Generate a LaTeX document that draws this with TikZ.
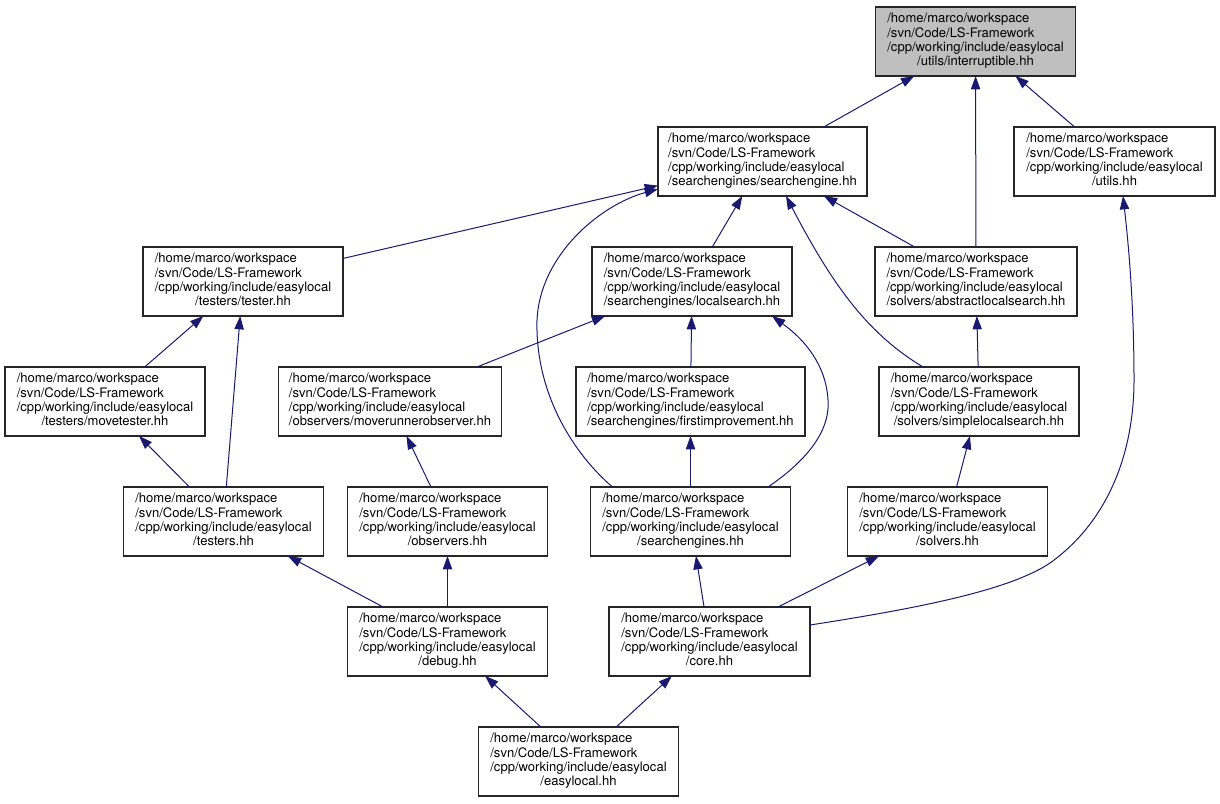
\documentclass[tikz,border=0pt]{standalone}
\usepackage{fontspec}
\setmainfont{TeX Gyre Heros}
\usepackage{tikz}
\usetikzlibrary{arrows.meta,calc}

\definecolor{edgeblue}{HTML}{191970}
\definecolor{rootgray}{HTML}{BFBFBF}

% common path prefix, last line centred
\newcommand{\hhpath}[1]{\begin{tabular}{@{}l@{}}/home/marco/workspace\\/svn/Code/LS-Framework\\/cpp/working/include/easylocal\\\multicolumn{1}{@{}c@{}}{#1}\end{tabular}}

\tikzset{
  hfile/.style={draw=black!85, fill=white, line width=0.8pt, inner sep=0pt, outer sep=0pt,
    minimum height=51.75pt, minimum width=150pt, font=\fontsize{9.8}{10.8}\selectfont},
  hroot/.style={hfile, fill=rootgray},
  incl/.style={draw=edgeblue, line width=0.75pt, -{Triangle[length=10pt,width=7pt]}}
}

\begin{document}
\begin{tikzpicture}[x=0.75pt, y=-0.75pt]
    \useasboundingbox (0,0) rectangle (1220,803);

    % row 0
    \node[hroot] (intr) at (975.5, 41.5) {\hhpath{/utils/interruptible.hh}};
    % row 1
    \node[hfile, minimum width=156.75pt] (se) at (762.5, 161.5) {\hhpath{/searchengines/searchengine.hh}};
    \node[hfile, minimum width=150.75pt] (utils) at (1114.5, 161.5) {\hhpath{/utils.hh}};
    % row 2
    \node[hfile] (tester) at (243, 281.5) {\hhpath{/testers/tester.hh}};
    \node[hfile] (ls) at (692, 281.5) {\hhpath{/searchengines/localsearch.hh}};
    \node[hfile, minimum width=151.5pt] (als) at (976, 281.5) {\hhpath{/solvers/abstractlocalsearch.hh}};
    % row 3
    \node[hfile] (mt) at (105, 401.5) {\hhpath{/testers/movetester.hh}};
    \node[hfile, minimum width=167.25pt] (mro) at (390, 401.5) {\hhpath{/observers/moverunnerobserver.hh}};
    \node[hfile, minimum width=171.75pt] (fi) at (690.5, 401.5) {\hhpath{/searchengines/firstimprovement.hh}};
    \node[hfile] (sls) at (979, 401.5) {\hhpath{/solvers/simplelocalsearch.hh}};
    % row 4
    \node[hfile] (testers) at (223.5, 521.5) {\hhpath{/testers.hh}};
    \node[hfile] (obs) at (447.5, 521.5) {\hhpath{/observers.hh}};
    \node[hfile] (ses) at (690.5, 521.5) {\hhpath{/searchengines.hh}};
    \node[hfile] (solvers) at (947.5, 521.5) {\hhpath{/solvers.hh}};
    % row 5
    \node[hfile] (debug) at (447.5, 641.5) {\hhpath{/debug.hh}};
    \node[hfile, minimum width=150.75pt] (core) at (709.5, 641.5) {\hhpath{/core.hh}};
    % row 6
    \node[hfile] (easy) at (578.5, 761.5) {\hhpath{/easylocal.hh}};

    % straight includes
    \draw[incl] (se) -- (intr);
    \draw[incl] (als) -- (intr);
    \draw[incl] (utils) -- (intr);
    \draw[incl] (tester) -- (se);
    \draw[incl] (ls) -- (se);
    \draw[incl] (als) -- (se);
    \draw[incl] (mt) -- (tester);
    \draw[incl] (testers) -- (tester);
    \draw[incl] (mro) -- (ls);
    \draw[incl] (fi) -- (ls);
    \draw[incl] (sls) -- (als);
    \draw[incl] (testers) -- (mt);
    \draw[incl] (obs) -- (mro);
    \draw[incl] (ses) -- (fi);
    \draw[incl] (solvers) -- (sls);
    \draw[incl] (debug) -- (testers);
    \draw[incl] (debug) -- (obs);
    \draw[incl] (core) -- (ses);
    \draw[incl] (core) -- (solvers);
    \draw[incl] (easy) -- (debug);
    \draw[incl] (easy) -- (core);

    % curved includes
    \draw[incl] ($(ses.north west)+(22,0)$) .. controls (575,455) and (535,395) .. (537,320)
        .. controls (540,255) and (600,205) .. ($(se.south west)+(0,-7)$);
    \draw[incl] ($(sls.north west)+(44,0)$) .. controls (870,335) and (835,290) .. ($(se.south east)+(-81,0)$);
    \draw[incl] ($(ses.north east)+(-22.5,0)$) .. controls (815,455) and (830,425) .. (828,400)
        .. controls (826,365) and (805,340) .. ($(ls.south east)+(-20,0)$);
    \draw[incl] ($(core.north east)+(0,18)$) .. controls (920,608) and (1010,590) .. (1050,563)
        .. controls (1110,520) and (1134,450) .. (1134,380)
        .. controls (1134,300) and (1128,240) .. ($(utils.south)+(8.5,0)$);
\end{tikzpicture}
\end{document}
